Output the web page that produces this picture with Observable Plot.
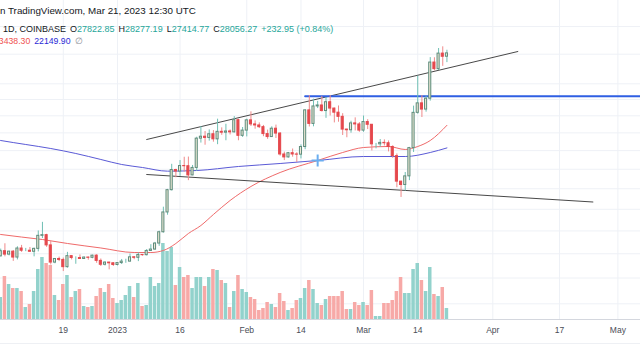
<!DOCTYPE html>
<html><head><meta charset="utf-8">
<script src="https://cdn.jsdelivr.net/npm/d3@7"></script>
<script src="https://cdn.jsdelivr.net/npm/@observablehq/plot@0.6"></script>
<style>
html,body{margin:0;padding:0;background:#fff;overflow:hidden;width:640px;height:360px;}
#wrap{position:relative;width:640px;height:360px;font-family:"Liberation Sans",Arial,sans-serif;}
.layer{position:absolute;left:0;top:0;}
.hdr{position:absolute;font-size:9px;line-height:11px;white-space:pre;color:#131722;}
.g{color:#26a69a;}
.sp{margin-left:4px;}
#base{position:absolute;left:0;top:343px;width:640px;height:1px;background:#eef0f4;}
</style></head><body>
<div id="wrap">
  <div class="layer" id="gridLayer"></div>
  <div class="layer" id="volLayer"></div>
  <div class="layer" id="priceLayer"></div>
  <div id="base"></div>
  <div class="hdr" style="left:0;top:5px;font-size:9.8px">n TradingView.com, Mar 21, 2023 12:30 UTC</div>
  <div class="hdr" style="left:3px;top:23.5px"><span>1D, COINBASE</span><span class="sp">O</span><span class="g">27822.85</span><span class="sp">H</span><span class="g">28277.19</span><span class="sp">L</span><span class="g">27414.77</span><span class="sp">C</span><span class="g">28056.27</span><span class="g sp">+232.95 (+0.84%)</span></div>
  <div class="hdr" style="left:-6px;top:35.5px;font-size:8.7px"><span style="color:#ef5350">23438.30</span><span class="sp" style="color:#2a2ad6">22149.90</span><span class="sp" style="color:#8a8d96">∅</span></div>
</div>
<script>
// ---- daily candles (Coinbase BTC/USD), Dec 2 2022 .. Mar 21 2023 ----
const firstDay = "2022-12-02";
const lastDay = "2023-03-21";
const openDec = [16980,17090,16890,17110,16965,17090,16840,17225,17130,17130,17085,17210,17780,17810,17360,16630,16780,16740,16440,16900,16820,16820,16780,16840,16830,16920,16700,16540,16630,16600];
const highDec = [17105,17150,17200,17430,17110,17140,17300,17360,17230,17270,17240,18000,18390,17850,17530,16800,16860,16820,17060,16920,16870,16950,16865,16860,16940,16960,16780,16660,16640,16630];
const lowDec  = [16790,16880,16870,16870,16910,16680,16740,17060,17090,17070,16870,17080,17660,17275,16530,16580,16670,16260,16400,16740,16560,16760,16760,16730,16790,16600,16470,16490,16330,16470];
const closeDec= [17090,16890,17110,16965,17090,16840,17225,17130,17130,17085,17210,17780,17810,17360,16630,16780,16740,16440,16900,16820,16820,16780,16840,16830,16920,16700,16540,16630,16600,16530];
const openJan = [16530,16610,16670,16670,16850,16830,16950,16940,17120,17180,17440,17940,18850,19930,20960,20880,21170,21160,20680,21070,22670,22780,22710,22920,22630,23060,23010,23080,23030,23740,22830];
const highJan = [16630,16760,16770,16990,16880,17040,16970,17180,17390,17490,17990,19100,19970,21260,21000,21460,21640,21650,21200,22750,23370,23080,23170,23130,23800,23290,23500,23170,23950,23800,23310];
const lowJan  = [16490,16550,16600,16650,16750,16670,16900,16910,17100,17150,17320,17900,18720,19890,20560,20630,20850,20410,20660,20880,22420,22300,22530,22470,22330,22860,22550,22880,22990,22550,22740];
const closeJan= [16610,16670,16670,16850,16830,16950,16940,17120,17180,17440,17940,18850,19930,20960,20880,21170,21160,20680,21070,22670,22780,22710,22920,22630,23060,23010,23080,23030,23740,22830,23130];
const openFeb = [23130,23730,23490,23430,23330,22930,22760,23240,22960,21790,21630,21860,21790,21780,22200,24330,23520,24570,24630,24290,24830,24440,24190,23940,23190,23150,23550,23490];
const highFeb = [23800,24240,23700,23580,23430,23160,23350,23450,23010,21920,21900,22090,21890,22320,24370,25250,25020,24880,25190,25120,25250,24470,24600,24130,23210,23680,23880,23600];
const lowFeb  = [22770,23370,23210,23250,22780,22630,22750,22680,21700,21460,21600,21640,21360,21550,22050,23340,23350,24440,24230,23850,23990,23580,23620,22850,22720,22980,23110,23030];
const closeFeb= [23730,23490,23430,23330,22930,22760,23240,22960,21790,21630,21860,21790,21780,22200,24330,23520,24570,24630,24290,24830,24440,24190,23940,23190,23150,23550,23490,23130];
const openMar = [23130,23630,23470,22350,22350,22430,22410,22200,21700,20360,20190,20630,22140,24180,24760,24380,25050,27420,26970,28040,27822.85];
const highMar = [23990,23770,23480,22400,22620,22600,22540,22270,21820,20370,20830,22180,24590,26500,25240,25210,27760,27750,28400,28520,28277.19];
const lowMar  = [23030,23190,21980,22100,22190,22260,21930,21580,20050,19570,19880,20410,21900,24100,23900,24220,24900,26860,26880,27160,27414.77];
const closeMar= [23630,23470,22350,22350,22430,22410,22200,21700,20360,20190,20630,22140,24180,24760,24380,25050,27420,26970,28040,27820,28056.27];
// volume (thousand BTC)
const volDec = [30,20,22,43,35,31,31,28,12,15,28,50,62,56,54,24,19,35,44,22,28,30,13,12,13,23,31,27,35,21];
const volJan = [16,19,24,33,22,36,13,14,42,33,36,76,68,72,34,52,42,44,31,42,42,33,42,50,49,39,36,12,28,44,30];
const volFeb = [27,22,20,9,11,17,15,12,26,18,9,11,19,21,31,39,30,16,14,20,23,23,23,28,10,10,17,14];
const volMar = [17,14,29,3,3,16,16,19,28,42,26,26,50,56,39,28,52,25,23,32,11];

// moving averages
const redMADates = ["2022-12-02","2022-12-04","2022-12-14","2022-12-20","2022-12-28","2023-01-05","2023-01-09","2023-01-12","2023-01-15","2023-01-18","2023-01-21","2023-01-24","2023-01-28","2023-02-02","2023-02-09","2023-02-18","2023-02-24","2023-03-01","2023-03-07","2023-03-11","2023-03-14","2023-03-17","2023-03-21"];
const redMAValues = [17900,17840,17617,17443,17248,17054,17054,17140,17443,17884,18245,18754,19422,20114,20830,21464,21898,22173,22229,22063,22229,22564,23438];
const blueMADates = ["2022-12-02","2022-12-04","2022-12-10","2022-12-16","2022-12-22","2022-12-28","2023-01-02","2023-01-07","2023-01-13","2023-01-20","2023-01-30","2023-02-09","2023-02-18","2023-03-01","2023-03-11","2023-03-17","2023-03-21"];
const blueMAValues = [22650,22564,22341,22118,21844,21519,21251,21092,20900,20934,21145,21304,21464,21680,21680,21898,22150];

// drawings
const upperTrendDates = ["2023-01-08","2023-04-07"];
const upperTrendValues = [22622,28187];
const lowerTrendDates = ["2023-01-08","2023-04-25"];
const lowerTrendValues = [20726,19349];
const levelDates = ["2023-02-15","2023-05-08"];
const levelValue = 25200;
const crossDate = "2023-02-18";
const crossValue = 21464;

// axis
const tickDates = ["2022-12-19","2023-01-01","2023-01-16","2023-02-01","2023-02-14","2023-03-01","2023-03-14","2023-04-01","2023-04-17","2023-05-01"];
const tickLabels = ["19","2023","16","Feb","14","Mar","14","Apr","17","May"];
const gridPrices = [15000,16000,17000,18000,19000,20000,21000,22000,23000,24000,25000,26000,28000,30000];

// ---- build ----
const parse = d3.utcParse("%Y-%m-%d");
const day = 864e5;
const dates = d3.utcDay.range(parse(firstDay), d3.utcDay.offset(parse(lastDay), 1));
const open = [...openDec,...openJan,...openFeb,...openMar];
const high = [...highDec,...highJan,...highFeb,...highMar];
const low = [...lowDec,...lowJan,...lowFeb,...lowMar];
const close = [...closeDec,...closeJan,...closeFeb,...closeMar];
const vol = [...volDec,...volJan,...volFeb,...volMar];
const candles = dates.map((d,i)=>({date:d,o:open[i],h:high[i],l:low[i],c:close[i],v:vol[i],up:close[i]>=open[i]}));
const series = (ds, vs) => ds.map((d,i)=>({date:parse(d), v: Array.isArray(vs)? vs[i] : vs}));

const jan1 = Date.UTC(2023,0,1), xJan1 = 117, pxDay = 4.17;
const xDomain = [new Date(jan1 - xJan1/pxDay*day), new Date(jan1 + (640-xJan1)/pxDay*day)];
const yDomain = [14424, 32021];
const W = 640, H = 345, MB = 26;
const base = {width:W, height:H, marginTop:0, marginBottom:MB, marginLeft:0, marginRight:0,
  style:{background:"transparent", fontFamily:"'Liberation Sans', Arial, sans-serif", fontSize:"8px", overflow:"visible"}};
const xs = {type:"utc", domain:xDomain, range:[0,W], axis:null};
const ys = {type:"log", domain:yDomain, range:[H-MB,0], axis:null};

const up = {fill:"#ece7d4", stroke:"#5f8c7c", wick:"#6fbfb3"};
const dn = {fill:"#e5484d", stroke:"#e5484d", wick:"#ef8a8a"};

const grid = Plot.plot({...base, x:xs, y:ys, marks:[
  Plot.ruleX(tickDates.map(parse), {stroke:"#eef1f6"}),
  Plot.ruleY(gridPrices, {stroke:"#eef1f6"}),
  Plot.ruleY([yDomain[0]], {stroke:"#d4d7de"}),
  Plot.text(tickDates, {x:d=>parse(d), text:(d,i)=>tickLabels[i], frameAnchor:"bottom", dy:13, fontSize:8.5, fill:"#4a4d57"})
]});
document.getElementById("gridLayer").appendChild(grid);

const volPlot = Plot.plot({...base, x:xs, y:{domain:[0,100], range:[H-MB, H-MB-100], axis:null}, color:{type:"identity"}, marks:[
  Plot.rect(candles, {x1:d=>new Date(+d.date-0.42*day), x2:d=>new Date(+d.date+0.42*day), y1:0, y2:"v", fill:d=>d.up?"#92d2cc":"#f7a9a7"})
]});
document.getElementById("volLayer").appendChild(volPlot);

const pricePlot = Plot.plot({...base, x:xs, y:ys, color:{type:"identity"}, marks:[
  Plot.line(series(blueMADates, blueMAValues), {x:"date", y:"v", stroke:"#5a5ad6", strokeWidth:1, curve:"monotone-x"}),
  Plot.line(series(redMADates, redMAValues), {x:"date", y:"v", stroke:"#ef6a6a", strokeWidth:1, curve:"monotone-x"}),
  Plot.line(series(upperTrendDates, upperTrendValues), {x:"date", y:"v", stroke:"#333", strokeWidth:0.9}),
  Plot.line(series(lowerTrendDates, lowerTrendValues), {x:"date", y:"v", stroke:"#333", strokeWidth:0.9}),
  Plot.line(series(levelDates, levelValue), {x:"date", y:"v", stroke:"#2f5fe3", strokeWidth:2}),
  Plot.ruleX(candles, {x:"date", y1:"l", y2:"h", stroke:d=>d.up?up.wick:dn.wick, strokeWidth:1}),
  Plot.rect(candles, {x1:d=>new Date(+d.date-0.25*day), x2:d=>new Date(+d.date+0.25*day), y1:"o", y2:"c",
    fill:d=>d.up?up.fill:dn.fill, stroke:d=>d.up?up.stroke:dn.stroke, strokeWidth:1}),
  Plot.dot([{date:parse(crossDate), v:crossValue}], {x:"date", y:"v", symbol:"plus", r:4, stroke:"#6aaef0", strokeWidth:2, fill:"none"})
]});
document.getElementById("priceLayer").appendChild(pricePlot);
</script>
</body></html>
